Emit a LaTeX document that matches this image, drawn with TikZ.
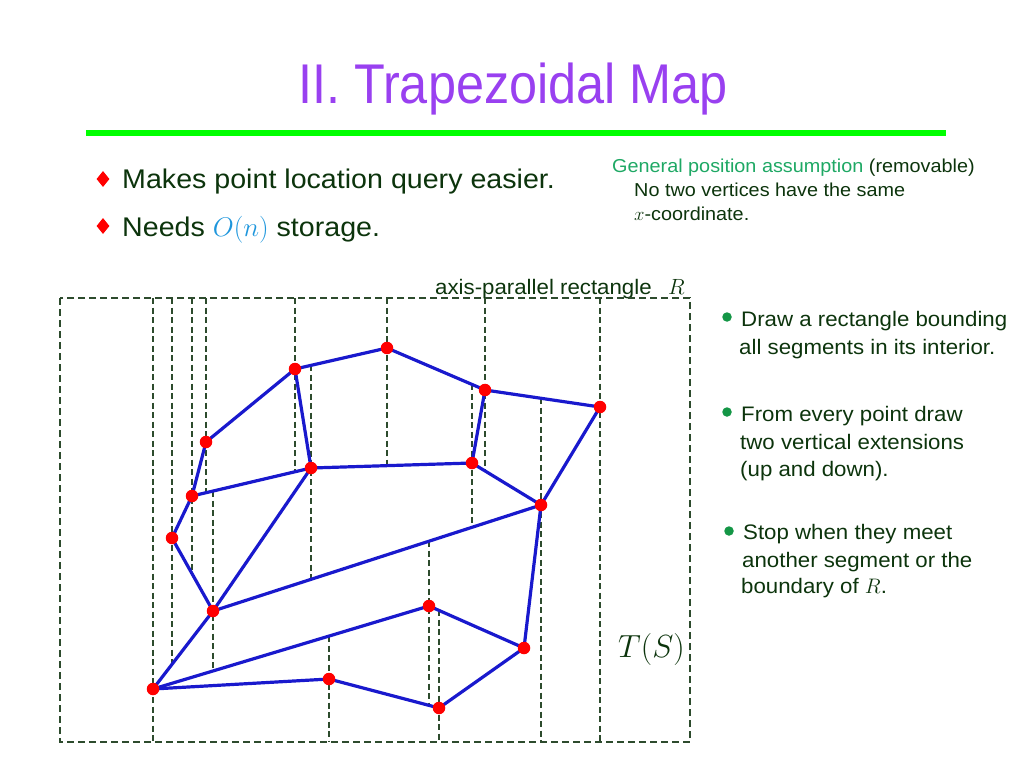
\RequirePackage{fix-cm}
\documentclass[tikz,border=0pt]{standalone}
\usepackage{fontspec}
\setmainfont{Liberation Sans}
\newfontfamily\bodyfont[FakeStretch=1.06]{Liberation Sans}
\newfontfamily\titlefont[FakeStretch=0.9]{Liberation Sans}
\usetikzlibrary{shapes.geometric}
\definecolor{txtgreen}{RGB}{12,52,12}
\definecolor{titlepurple}{RGB}{153,64,240}
\definecolor{rulegreen}{RGB}{0,255,0}
\definecolor{lightgreen}{RGB}{30,168,100}
\definecolor{dotgreen}{RGB}{20,150,70}
\definecolor{oblue}{RGB}{30,150,220}
\definecolor{segblue}{RGB}{25,25,205}
\definecolor{extgreen}{RGB}{45,75,45}
\begin{document}
\begin{tikzpicture}[x=1pt,y=-1pt,
  txt/.style={anchor=base west,inner sep=0pt,text=txtgreen},
  big/.style={font=\bodyfont\fontsize{27}{32}\selectfont},
  mid/.style={font=\bodyfont\fontsize{21}{25}\selectfont},
  small/.style={font=\bodyfont\fontsize{18.7}{22}\selectfont},
  reddiamond/.style={diamond,fill=red,inner sep=0pt,minimum width=13pt,minimum height=16pt},
  gdot/.style={circle,fill=dotgreen,inner sep=0pt,minimum size=9.5pt},
  pt/.style={circle,fill=red,inner sep=0pt,minimum size=12.5pt},
  seg/.style={draw=segblue,line width=3.2pt,line cap=round},
  ext/.style={draw=extgreen,line width=1.1pt,dash pattern=on 6pt off 3.5pt},
  bound/.style={draw=extgreen,line width=1.1pt,dash pattern=on 7pt off 4pt}]
\useasboundingbox (0,0) rectangle (1024,768);

% title
\node[anchor=base,inner sep=0pt,text=titlepurple,font=\titlefont\fontsize{56}{60}\selectfont] (title) at (513,103) {II. Trapezoidal Map};
\coordinate (gl1) at (86,133);
\coordinate (gl2) at (946,133);
\draw[draw=rulegreen,line width=6pt] (gl1) -- (gl2);

% left bullets
\node[reddiamond] (db1) at (103,179) {};
\node[reddiamond] (db2) at (103,226) {};
\node[txt,big] (b1) at (122,188) {Makes point location query easier.};
\node[txt,big] (b2) at (122,236) {Needs \textcolor{oblue}{$O(n)$} storage.};

% general position
\node[txt,small] (g1) at (612,172) {\textcolor{lightgreen}{General position assumption} (removable)};
\node[txt,small] (g2) at (634,196) {No two vertices have the same};
\node[txt,small] (g3) at (634,220) {$x$-coordinate.};

% rectangle label
\node[txt,mid] (rl) at (435,294) {axis-parallel rectangle};
\node[txt,font=\fontsize{22}{26}\selectfont] (rR) at (668,294) {$R$};

% right bullets
\node[gdot] (d1) at (727,317) {};
\node[txt,mid] (r1a) at (741,326) {Draw a rectangle bounding};
\node[txt,mid] (r1b) at (739,354) {all segments in its interior.};
\node[gdot] (d2) at (727,412) {};
\node[txt,mid] (r2a) at (741,421) {From every point draw};
\node[txt,mid] (r2b) at (740,449) {two vertical extensions};
\node[txt,mid] (r2c) at (740,476) {(up and down).};
\node[gdot] (d3) at (729,531) {};
\node[txt,mid] (r3a) at (743,539) {Stop when they meet};
\node[txt,mid] (r3b) at (742,567) {another segment or the};
\node[txt,mid] (r3c) at (741,593) {boundary of $R$.};

% T(S)
\node[txt,font=\fontsize{32}{36}\selectfont] (TS) at (618,657) {$T(S)$};

% bounding rectangle R
\coordinate (Rtl) at (60,298);
\coordinate (Rbr) at (690,742);
\draw[bound] (Rtl) rectangle (Rbr);
\coordinate (Rt) at (0,298);
\coordinate (Rb) at (0,742);

% points
\coordinate (c1) at (295,369);
\coordinate (c2) at (387,348);
\coordinate (c3) at (485,390);
\coordinate (c4) at (600,407);
\coordinate (c5) at (206,442);
\coordinate (c6) at (311,468);
\coordinate (c7) at (472,463);
\coordinate (c8) at (192,496);
\coordinate (c9) at (541,505);
\coordinate (c10) at (172,538);
\coordinate (c11) at (213,611);
\coordinate (c12) at (429,606);
\coordinate (c13) at (524,648);
\coordinate (c14) at (153,689);
\coordinate (c15) at (329,679);
\coordinate (c16) at (439,708);

% extension end points on segments
\coordinate (e5d) at (206,493);
\coordinate (e11u) at (213,491);
\coordinate (e11d) at (213,671);
\coordinate (e10d) at (172,664);
\coordinate (e8d) at (192,574);
\coordinate (e1d) at (295,472);
\coordinate (e6u) at (311,365);
\coordinate (e6d) at (311,579);
\coordinate (e15u) at (329,636);
\coordinate (e2d) at (387,466);
\coordinate (e12u) at (429,541);
\coordinate (e12d) at (429,705);
\coordinate (e16u) at (439,610);
\coordinate (e7u) at (472,384);
\coordinate (e7d) at (472,527);
\coordinate (e3d) at (485,471);
\coordinate (e9u) at (541,398);

% vertical extensions
\draw[ext] (c14 |- Rt) -- (c14 |- Rb);
\draw[ext] (c10 |- Rt) -- (e10d);
\draw[ext] (c8 |- Rt) -- (e8d);
\draw[ext] (c5 |- Rt) -- (e5d);
\draw[ext] (e11u) -- (e11d);
\draw[ext] (c1 |- Rt) -- (e1d);
\draw[ext] (e6u) -- (e6d);
\draw[ext] (e15u) -- (c15 |- Rb);
\draw[ext] (c2 |- Rt) -- (e2d);
\draw[ext] (e12u) -- (e12d);
\draw[ext] (e16u) -- (c16 |- Rb);
\draw[ext] (e7u) -- (e7d);
\draw[ext] (c3 |- Rt) -- (e3d);
\draw[ext] (e9u) -- (c9 |- Rb);
\draw[ext] (c4 |- Rt) -- (c4 |- Rb);

% segments
\foreach \a/\b in {1/2,2/3,3/4,1/5,1/6,3/7,4/9,5/8,6/8,6/7,7/9,8/10,10/11,6/11,11/9,9/13,14/11,14/12,12/13,14/15,15/16,16/13}
  \draw[seg] (c\a) -- (c\b);

% vertex dots
\foreach \i in {1,...,16}
  \node[pt] (p\i) at (c\i) {};
\end{tikzpicture}
\end{document}
